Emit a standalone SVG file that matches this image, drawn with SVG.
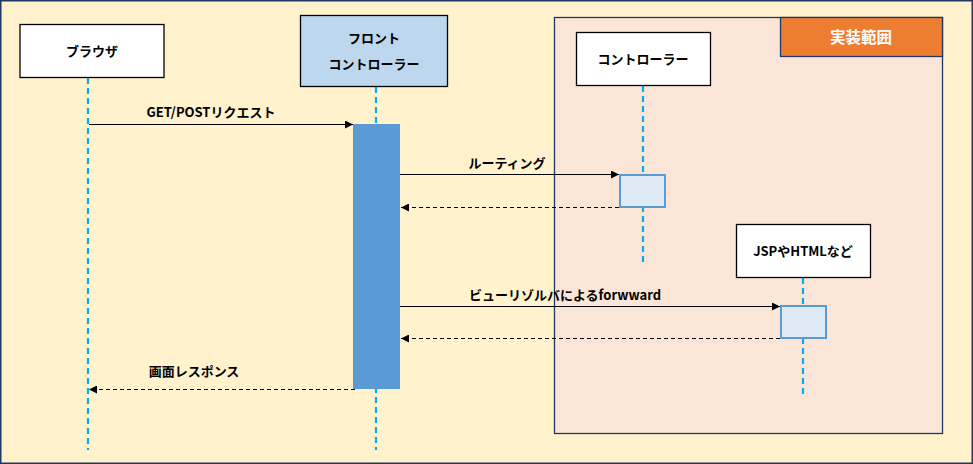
<svg xmlns="http://www.w3.org/2000/svg" width="973" height="464" viewBox="0 0 973 464">
<style>
text{font-family:"Noto Sans CJK JP","Liberation Sans",sans-serif;font-size:13px;font-weight:bold;fill:#000;text-anchor:middle;dominant-baseline:central}
.box{fill:#fff;stroke:#000;stroke-width:1.3}
.life{stroke:#00B0F0;stroke-width:2.2;stroke-dasharray:6,4;fill:none}
.msg{stroke:#000;stroke-width:1.2;fill:none}
.ret{stroke:#000;stroke-width:1.2;fill:none;stroke-dasharray:4,3}
.act{fill:#DEEBF7;stroke:#5B9BD5;stroke-width:2}
</style>
<defs>
<marker id="ah" viewBox="0 0 10 10" refX="10" refY="5" markerWidth="10" markerHeight="8" markerUnits="userSpaceOnUse" orient="auto">
<path d="M0,0 L10,5 L0,10 z" fill="#000"/>
</marker>
</defs>
<rect x="0.75" y="0.75" width="971.5" height="462.5" fill="#FFF2CC" stroke="#1F3864" stroke-width="1.5"/>
<g id="scope">
<rect x="554.5" y="17.5" width="388" height="416" fill="#FBE5D6" stroke="#1F3864" stroke-width="1.3"/>
<rect x="780.5" y="17.5" width="162" height="39" fill="#ED7D31" stroke="#1F3864" stroke-width="1.3"/>
<text x="861" y="36" style="fill:#fff;font-size:15.5px">実装範囲</text>
</g>
<g id="browser">
<line class="life" x1="88" y1="78" x2="88" y2="450"/>
<rect class="box" x="20" y="24.5" width="144" height="53"/>
<text x="92" y="50">ブラウザ</text>
</g>
<g id="front">
<line class="life" x1="376" y1="87" x2="376" y2="450"/>
<rect x="300.5" y="15.5" width="147" height="71" fill="#BDD7EE" stroke="#000" stroke-width="1.3"/>
<text x="374" y="37">フロント</text>
<text x="374" y="63">コントローラー</text>
<rect x="353" y="124" width="47" height="265" fill="#5B9BD5"/>
</g>
<g id="controller">
<line class="life" x1="643" y1="86" x2="643" y2="264"/>
<rect class="box" x="576.5" y="32.5" width="134" height="53"/>
<text x="643" y="58">コントローラー</text>
<rect class="act" x="620" y="175" width="45" height="32"/>
</g>
<g id="view">
<line class="life" x1="803" y1="278" x2="803" y2="396"/>
<rect class="box" x="736.5" y="224.5" width="134" height="53"/>
<text x="803" y="250">JSPやHTMLなど</text>
<rect class="act" x="781" y="306" width="45" height="32"/>
</g>
<g id="connectors">
<line class="msg" x1="89" y1="124.5" x2="353" y2="124.5" marker-end="url(#ah)"/>
<text x="211" y="111">GET/POSTリクエスト</text>
<line class="msg" x1="400" y1="174.5" x2="619" y2="174.5" marker-end="url(#ah)"/>
<text x="507" y="162">ルーティング</text>
<line class="ret" x1="619" y1="207.5" x2="401" y2="207.5" marker-end="url(#ah)"/>
<line class="msg" x1="400" y1="306.5" x2="780" y2="306.5" marker-end="url(#ah)"/>
<text x="565" y="294">ビューリゾルバによるforwward</text>
<line class="ret" x1="780" y1="338.5" x2="401" y2="338.5" marker-end="url(#ah)"/>
<line class="ret" x1="355" y1="389.5" x2="89" y2="389.5" marker-end="url(#ah)"/>
<text x="194" y="370">画面レスポンス</text>
</g>
</svg>
